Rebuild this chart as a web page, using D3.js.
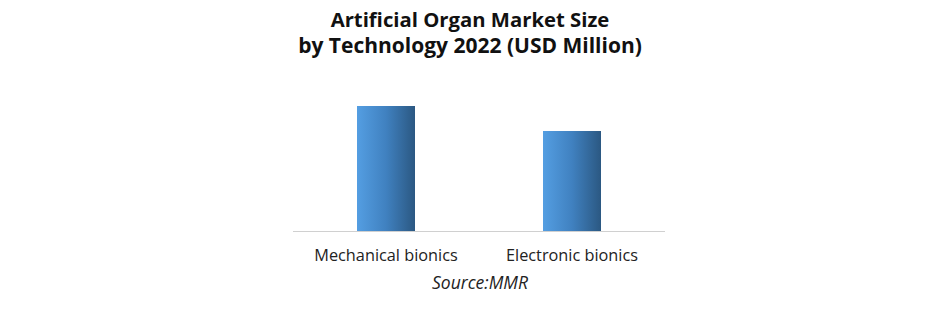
<!DOCTYPE html>
<html>
<head>
<meta charset="utf-8">
<script src="https://cdn.jsdelivr.net/npm/d3@7"></script>
<style>
  body { margin: 0; background: #fff; }
  text { font-family: "Open Sans", "Liberation Sans", sans-serif; }
</style>
</head>
<body>
<div id="chart"></div>
<script>
// data
var categories = ["Mechanical bionics", "Electronic bionics"];
var values = [125, 100];
var titleLines = ["Artificial Organ Market Size", "by Technology 2022 (USD Million)"];
var source = "Source:MMR";

var W = 941, H = 314;

var svg = d3.select("#chart").append("svg")
    .attr("width", W)
    .attr("height", H);

// gradient for bars
var grad = svg.append("defs").append("linearGradient")
    .attr("id", "barGrad")
    .attr("x1", "0%").attr("x2", "100%").attr("y1", "0%").attr("y2", "0%");
grad.append("stop").attr("offset", "0%").attr("stop-color", "#549ee2");
grad.append("stop").attr("offset", "50%").attr("stop-color", "#4081c0");
grad.append("stop").attr("offset", "100%").attr("stop-color", "#2b5882");

// scales
var x = d3.scaleBand().domain(categories).range([293, 665]).padding(0);
var y = d3.scaleLinear().domain([0, 125]).range([231, 106]);
var barW = 58;

// bars
svg.selectAll("rect.bar")
    .data(values)
  .enter().append("rect")
    .attr("class", "bar")
    .attr("x", (d, i) => x(categories[i]) + x.bandwidth() / 2 - barW / 2)
    .attr("y", d => y(d))
    .attr("width", barW)
    .attr("height", d => y(0) - y(d))
    .attr("fill", "url(#barGrad)");

// baseline
svg.append("line")
    .attr("x1", 293).attr("x2", 665)
    .attr("y1", y(0) + 0.5).attr("y2", y(0) + 0.5)
    .attr("stroke", "#d0d0d0")
    .attr("stroke-width", 1);

// category labels
svg.selectAll("text.cat")
    .data(categories)
  .enter().append("text")
    .attr("class", "cat")
    .attr("x", d => x(d) + x.bandwidth() / 2)
    .attr("y", 261)
    .attr("text-anchor", "middle")
    .attr("font-size", 16.3)
    .attr("fill", "#222")
    .text(d => d);

// title
svg.selectAll("text.title")
    .data(titleLines)
  .enter().append("text")
    .attr("class", "title")
    .attr("x", 470)
    .attr("y", (d, i) => 27 + i * 26)
    .attr("text-anchor", "middle")
    .attr("font-size", (d, i) => i === 0 ? 20.3 : 21)
    .attr("font-weight", "bold")
    .attr("fill", "#111")
    .text(d => d);

// source
svg.append("text")
    .attr("x", 480)
    .attr("y", 289)
    .attr("text-anchor", "middle")
    .attr("font-size", 17.5)
    .attr("font-style", "italic")
    .attr("fill", "#222")
    .text(source);
</script>
</body>
</html>
